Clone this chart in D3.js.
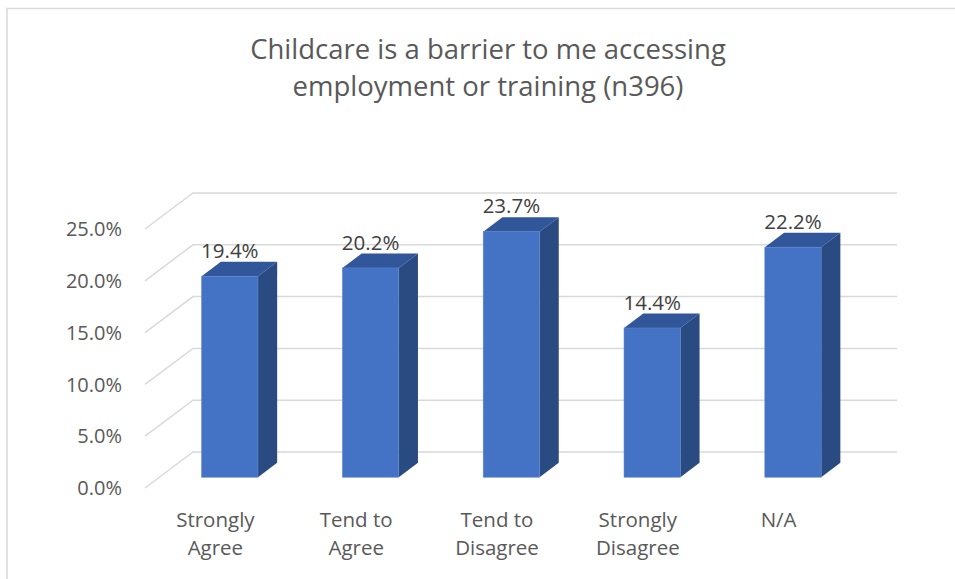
<!DOCTYPE html>
<html>
<head>
<meta charset="utf-8">
<script src="https://cdn.jsdelivr.net/npm/d3@7"></script>
<style>
  html, body { margin: 0; padding: 0; background: #fff; }
  svg { display: block; }
  text { font-family: "Open Sans", "Noto Sans", sans-serif; fill: #595959; }
</style>
</head>
<body>
<svg id="chart" width="955" height="579"></svg>
<script>
// ---- data ----
const categories = [["Strongly", "Agree"], ["Tend to", "Agree"], ["Tend to", "Disagree"], ["Strongly", "Disagree"], ["N/A"]];
const values = [19.4, 20.2, 23.7, 14.4, 22.2];
const yTicks = [0, 5, 10, 15, 20, 25];
const titleLines = ["Childcare is a barrier to me accessing", "employment or training (n396)"];

// ---- layout ----
const svg = d3.select("#chart");

// chart border (extends past the visible frame like the reference)
svg.append("rect")
  .attr("x", 7).attr("y", 8.5)
  .attr("width", 1200).attr("height", 800)
  .attr("fill", "none").attr("stroke", "#d9d9d9").attr("stroke-width", 1.5);

// 3D projection: depth z in [0,1]
const depthDX = 48, depthDY = -36;
const proj = (x, y, z) => [x + depthDX * z, y + depthDY * z];

const catKeys = categories.map(c => c.join(" "));
const x = d3.scaleBand().domain(catKeys).range([145, 849]).paddingInner(0.6).paddingOuter(0.3);
const y = d3.scaleLinear().domain([0, 25]).range([488, 229]);

// title
const title = svg.append("text").attr("text-anchor", "middle").style("font-size", "27.5px");
titleLines.forEach((t, i) => {
  title.append("tspan").attr("x", 488).attr("y", 59 + i * 37).text(t);
});

// gridlines: diagonal on side wall + horizontal on back wall
const grid = svg.append("g").attr("stroke", "#d9d9d9").attr("stroke-width", 1.5).attr("fill", "none");
yTicks.forEach(v => {
  const [fx, fy] = proj(x.range()[0], y(v), 0);
  const [bx, by] = proj(x.range()[0], y(v), 1);
  const [ex, ey] = proj(x.range()[1], y(v), 1);
  grid.append("path").attr("d", `M${fx},${fy}L${bx},${by}L${ex},${ey}`);
});

// y tick labels
svg.append("g").selectAll("text").data(yTicks).join("text")
  .attr("x", 122).attr("y", d => y(d))
  .attr("dy", "0.36em")
  .attr("text-anchor", "end")
  .style("font-size", "20px")
  .text(d => d3.format(".1f")(d) + "%");

// bars
const z0 = 0.3, z1 = 0.7;
const barG = svg.append("g");
values.forEach((v, i) => {
  const k = catKeys[i];
  const xl = x(k), xr = x(k) + x.bandwidth();
  const yb = y(0), yt = y(v);
  const p = (xx, yy, zz) => proj(xx, yy, zz).join(",");
  // top
  barG.append("polygon")
    .attr("points", [p(xl, yt, z0), p(xr, yt, z0), p(xr, yt, z1), p(xl, yt, z1)].join(" "))
    .attr("fill", "#31569a");
  // side
  barG.append("polygon")
    .attr("points", [p(xr, yb, z0), p(xr, yb, z1), p(xr, yt, z1), p(xr, yt, z0)].join(" "))
    .attr("fill", "#2a4a82");
  // front
  const [fx, fy] = proj(xl, yt, z0);
  barG.append("rect")
    .attr("x", fx).attr("y", fy)
    .attr("width", x.bandwidth()).attr("height", yb - yt)
    .attr("fill", "#4472c4").attr("stroke", "#5b84cc").attr("stroke-width", 0.6);
  // data label
  const [lx] = proj(xl + x.bandwidth() / 2, yt, z0);
  const [, ly] = proj(xl, yt, z1);
  svg.append("text")
    .attr("x", lx).attr("y", ly - 4)
    .attr("text-anchor", "middle")
    .style("font-size", "20.5px")
    .style("fill", "#404040")
    .text(d3.format(".1f")(v) + "%");
});

// category labels
const catG = svg.append("g");
categories.forEach((lines, i) => {
  const t = catG.append("text").attr("text-anchor", "middle").style("font-size", "20.5px");
  const cx = x(catKeys[i]) + x.bandwidth() / 2;
  lines.forEach((ln, j) => {
    t.append("tspan").attr("x", cx).attr("y", 527 + j * 28).text(ln);
  });
});
</script>
</body>
</html>
